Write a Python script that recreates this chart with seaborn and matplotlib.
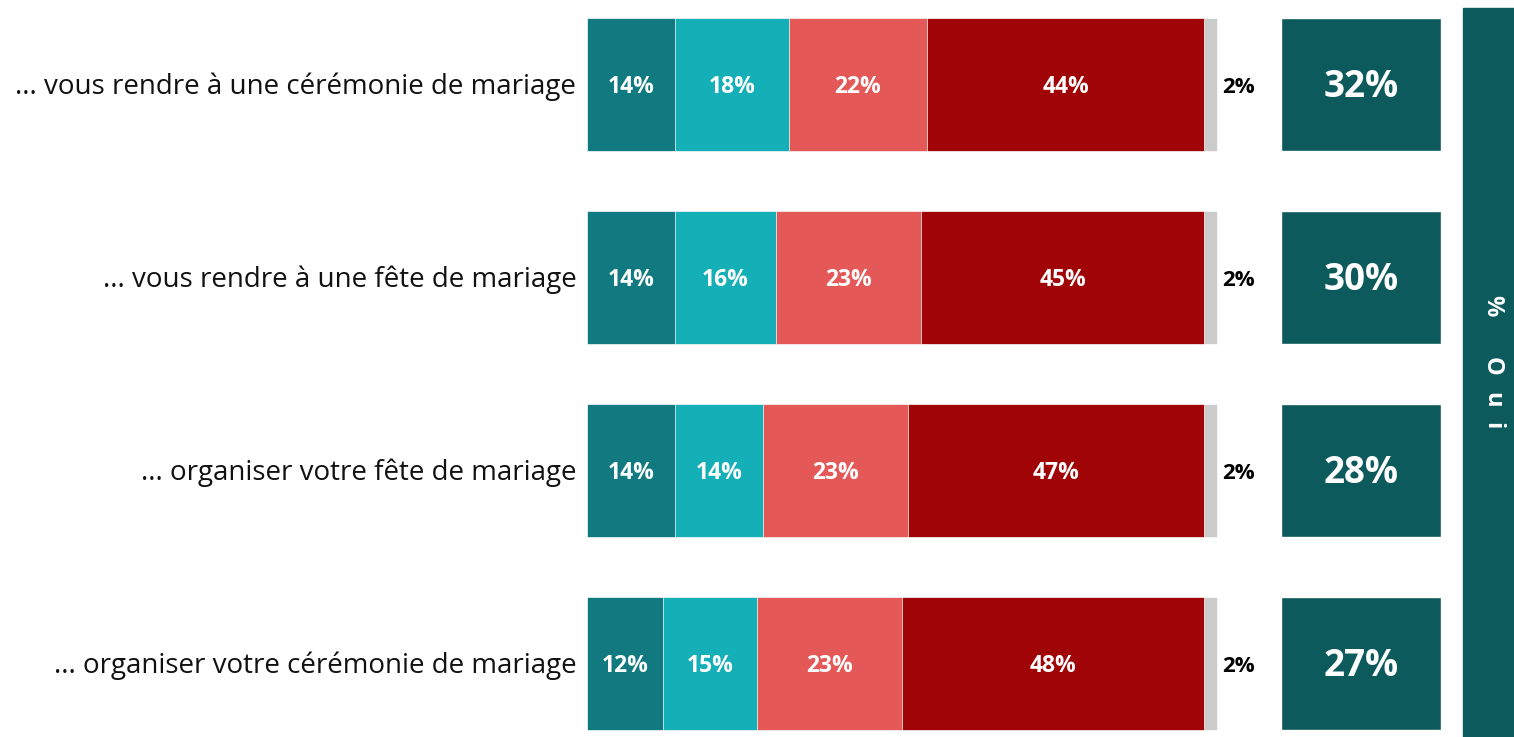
import matplotlib
matplotlib.use("Agg")
import matplotlib.pyplot as plt
import seaborn as sns
import pandas as pd
from matplotlib.patches import Rectangle

sns.set_theme(style="white")
plt.rcParams['font.family'] = ['Open Sans', 'DejaVu Sans']

# Survey answers per activity
categories = [
    "... vous rendre à une cérémonie de mariage",
    "... vous rendre à une fête de mariage",
    "... organiser votre fête de mariage",
    "... organiser votre cérémonie de mariage",
]
tout_a_fait = [14, 14, 14, 12]
plutot_oui = [18, 16, 14, 15]
plutot_non = [22, 23, 23, 23]
pas_du_tout = [44, 45, 47, 48]
nsp = [2, 2, 2, 2]
total_oui = [32, 30, 28, 27]

series = [tout_a_fait, plutot_oui, plutot_non, pas_du_tout, nsp]
colors = ["#107A80", "#14AFB7", "#E45858", "#A10406", "#CBCBCB"]

fig = plt.figure(figsize=(15.14, 7.37), dpi=100)
ax = fig.add_axes([0, 0, 1, 1])

px = 6.3  # pixels per percentage point
ax.set_xlim(-587 / px, (1514 - 587) / px)

# cumulative ends of each segment
cums = []
run = [0] * len(categories)
for s in series:
    run = [a + b for a, b in zip(run, s)]
    cums.append(list(run))

# draw from the longest cumulative bar down so shorter ones sit on top
for cum, col in reversed(list(zip(cums, colors))):
    df = pd.DataFrame({"cat": categories, "val": cum})
    sns.barplot(data=df, x="val", y="cat", orient="h", color=col,
                width=0.69, saturation=1, edgecolor="white", linewidth=0.5,
                ax=ax)

ax.set_ylim((737 - 84.5) / 193, -84.5 / 193)
ax.axis("off")

dy = 0.014  # small downward nudge for text
for i, cat in enumerate(categories):
    ax.text(-1.7, i + dy, cat, ha="right", va="center", fontsize=20, color="#111111")
    start = 0
    for k, s in enumerate(series[:4]):
        v = s[i]
        ax.text(start + v / 2, i + dy, f"{v}%", ha="center", va="center",
                fontsize=16.5, fontweight="bold", color="white")
        start += v
    ax.text(start + nsp[i] + 0.9, i + dy, f"{nsp[i]}%", ha="left", va="center",
            fontsize=16, fontweight="bold", color="black")
    # total "Oui" box
    ax.barh(i, 160 / px, left=(1281 - 587) / px, height=0.69, color="#0C5A5C")
    ax.text((1361 - 587) / px, i + dy, f"{total_oui[i]}%", ha="center", va="center",
            fontsize=26.5, fontweight="bold", color="white")

# side banner with spaced vertical title
fig.patches.append(Rectangle((1463 / 1514, 0), 60 / 1514, 729 / 737,
                             transform=fig.transFigure, color="#0C5A5C"))
for ch, ypix in zip(["%", "O", "u", "i"], [306, 366, 400, 426]):
    fig.text(1492 / 1514, 1 - ypix / 737, ch, rotation=-90, ha="center",
             va="center", fontsize=17, fontweight="bold", color="white")

fig.savefig("out.png", dpi=100)
